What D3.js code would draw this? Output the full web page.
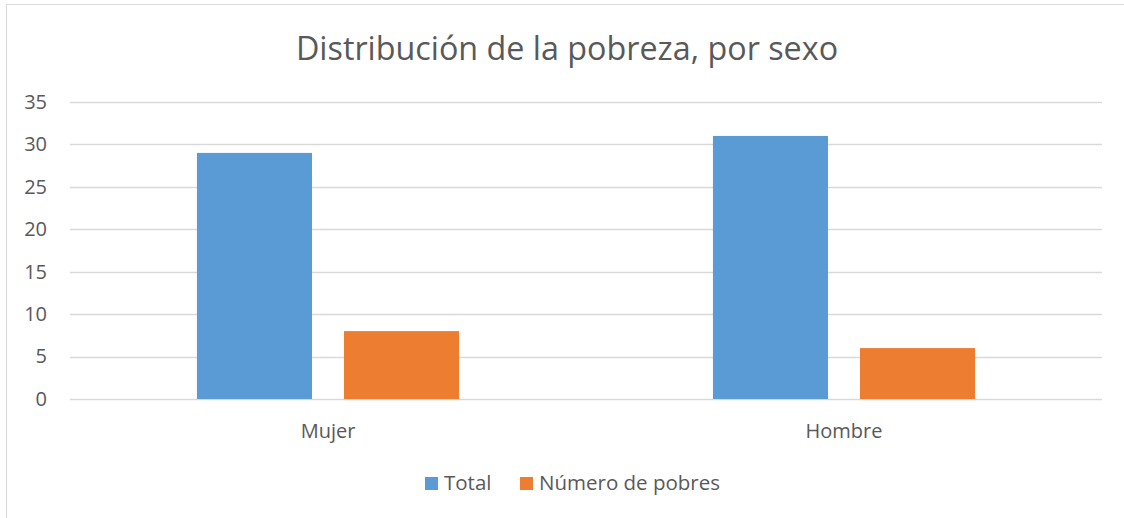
<!DOCTYPE html>
<html><head><meta charset="utf-8">
<script src="https://cdn.jsdelivr.net/npm/d3@7"></script>
<style>body{margin:0;background:#fff;}svg{display:block;font-family:"Open Sans",sans-serif;}</style>
</head><body><svg id="c" width="1124" height="518"></svg>
<script>
const categories = ["Mujer", "Hombre"];
const seriesNames = ["Total", "Número de pobres"];
const totalValues = [29, 31];
const pobresValues = [8, 6];
const yTicks = [0, 5, 10, 15, 20, 25, 30, 35];
const colors = ["#5B9BD5", "#ED7D31"];
const title = "Distribución de la pobreza, por sexo";

const FONT = "Open Sans, sans-serif";
const svg = d3.select("#c");
const W = 1124, H = 518;
svg.append("rect").attr("x", 6.5).attr("y", 4.5).attr("width", W + 10).attr("height", H + 10)
  .attr("fill", "#fff").attr("stroke", "#D9D9D9").attr("stroke-width", 1);

const L = 70, R = 1102, T = 102, B = 399;
const y = d3.scaleLinear().domain([0, 35]).range([B, T]);
const x0 = d3.scaleBand().domain(categories).range([L, R]).paddingInner(0.492).paddingOuter(0.246);
const x1 = d3.scaleBand().domain(seriesNames).range([0, x0.bandwidth()]).paddingInner(0.2177).paddingOuter(0);

svg.append("text").attr("x", 567).attr("y", 60).attr("text-anchor", "middle")
  .attr("font-size", 32.3).attr("fill", "#595959").attr("font-family", FONT).text(title);

const grid = svg.append("g");
grid.selectAll("line").data(yTicks).join("line")
  .attr("x1", L).attr("x2", R).attr("y1", d => Math.round(y(d)) + 0.5).attr("y2", d => Math.round(y(d)) + 0.5)
  .attr("stroke", "#D9D9D9").attr("stroke-width", 1.3);

const yAxis = d3.axisLeft(y).tickValues(yTicks).tickSize(0).tickPadding(0);
const ya = svg.append("g").attr("transform", `translate(47,0)`).call(yAxis);
ya.select(".domain").remove();
ya.selectAll("text").attr("font-size", 20).attr("fill", "#595959").attr("font-family", FONT);

const rows = categories.map((c, i) => ({cat: c, vals: [totalValues[i], pobresValues[i]]}));
const g = svg.append("g");
g.selectAll("g").data(rows).join("g").attr("transform", d => `translate(${x0(d.cat)},0)`)
  .selectAll("rect").data(d => d.vals.map((v, j) => ({s: seriesNames[j], v, j}))).join("rect")
  .attr("x", d => x1(d.s)).attr("width", x1.bandwidth())
  .attr("y", d => y(d.v)).attr("height", d => B - y(d.v))
  .attr("fill", d => colors[d.j]);

const xAxis = d3.axisBottom(x0).tickSize(0).tickPadding(0);
const xa = svg.append("g").attr("transform", `translate(0,${B + 25})`).call(xAxis);
xa.select(".domain").remove();
xa.selectAll("text").attr("font-size", 20).attr("fill", "#595959").attr("font-family", FONT);

const legend = svg.append("g");
const lx = [425, 520];
seriesNames.forEach((s, i) => {
  legend.append("rect").attr("x", lx[i]).attr("y", 477).attr("width", 13).attr("height", 13).attr("fill", colors[i]);
  legend.append("text").attr("x", lx[i] + 19).attr("y", 490).attr("font-size", 20.5).attr("fill", "#595959")
    .attr("font-family", FONT).text(s);
});
</script></body></html>
